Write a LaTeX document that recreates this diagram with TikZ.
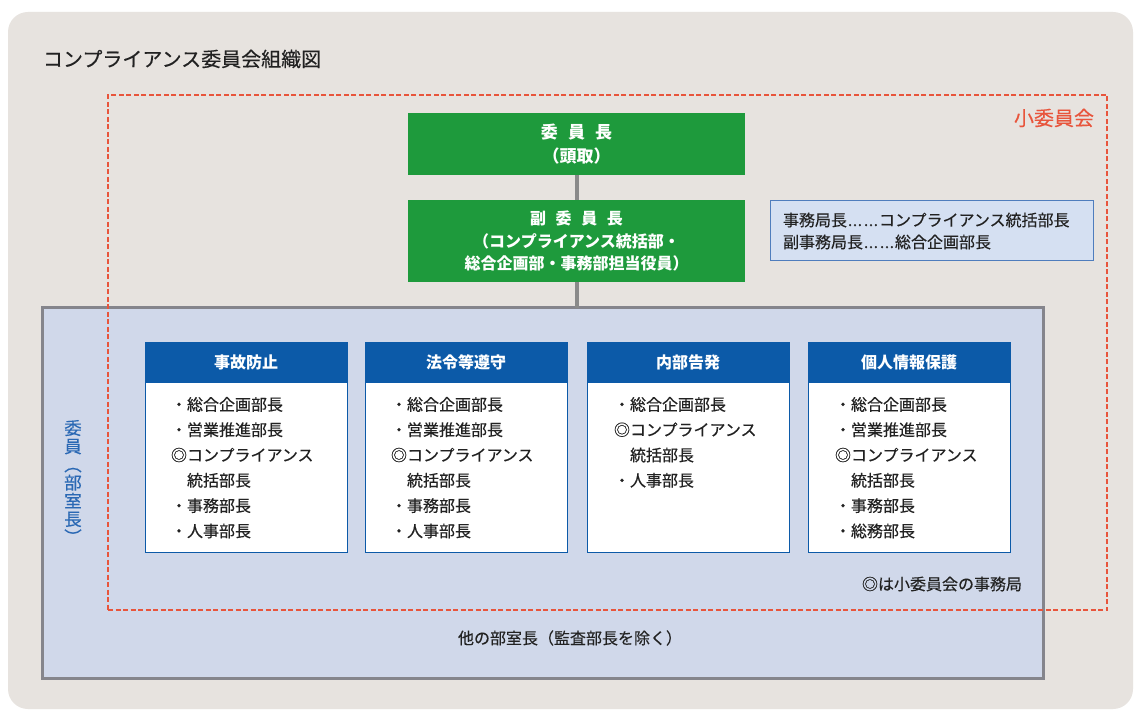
\documentclass[tikz,border=0pt]{standalone}
\usepackage{graphicx}
\usepackage{fontspec}
\setmainfont{Noto Sans CJK JP}
\newfontfamily\medfont{Noto Sans CJK JP}[FakeBold=0.35]
\newcommand\jdots{\makebox[1em]{\hfil.\hfil.\hfil.\hfil}}
\newcommand\vparen[1]{\rotatebox[origin=c]{-90}{#1}}
\definecolor{bgbeige}{HTML}{E7E3DF}
\definecolor{cgreen}{HTML}{1E9A3C}
\definecolor{cconn}{HTML}{8A8A8A}
\definecolor{cred}{HTML}{E8553C}
\definecolor{cmemfill}{HTML}{D0D8EA}
\definecolor{cmemdraw}{HTML}{85858C}
\definecolor{cblue}{HTML}{0C5AA8}
\definecolor{cinfofill}{HTML}{D5E0F2}
\definecolor{cinfodraw}{HTML}{4F7DBD}
\definecolor{cvtext}{HTML}{2A68B4}
\definecolor{ctext}{HTML}{222222}
\begin{document}
\begin{tikzpicture}[x=1pt,y=-1pt,
  every node/.style={inner sep=0pt,outer sep=0pt},
  greenbox/.style={fill=cgreen,draw=none,text=white,align=center,minimum width=337pt},
  conn/.style={draw=cconn,line width=4pt},
  colbox/.style={draw=cblue,fill=white,line width=0.8pt,minimum width=202pt,minimum height=210pt,anchor=north west},
  colhead/.style={fill=cblue,text=white,minimum width=202pt,minimum height=41pt,anchor=north west,font=\fontsize{16}{20}\selectfont\bfseries},
  itemtext/.style={font=\fontsize{16}{25.3}\selectfont\medfont,align=left,anchor=north west,text=ctext},
  reddash/.style={draw=cred,line width=2pt,dash pattern=on 5pt off 2.5pt},
]
\useasboundingbox (0,0) rectangle (1135,711);
\fill[white] (0,0) rectangle (1135,711);
\fill[bgbeige,rounded corners=20pt] (8,12) rectangle (1133,709);

% title
\node[anchor=west,text=ctext,font=\fontsize{20}{24}\selectfont\medfont] (title) at (43,59) {コンプライアンス委員会組織図};

% members box
\node[fill=cmemfill,draw=cmemdraw,line width=3pt,minimum width=1001pt,minimum height=370pt,anchor=north west] (members) at (42,308) {};

% sub-committee dashed frame
\node[reddash,minimum width=999pt,minimum height=515pt,anchor=north west] (sub) at (108,95) {};
\node[text=cred,font=\fontsize{20}{24}\selectfont\medfont] (sublabel) at (1054,118) {小委員会};

% chair boxes
\node[greenbox,minimum height=62pt,font=\fontsize{17}{24}\selectfont\bfseries] (chair) at (576.5,144)
  {委\hspace{0.6em}員\hspace{0.6em}長\\（頭取）};
\node[greenbox,minimum height=82pt,font=\fontsize{16}{22.5}\selectfont\bfseries] (vice) at (576.5,241)
  {副\hspace{0.6em}委\hspace{0.6em}員\hspace{0.6em}長\\（コンプライアンス統括部・\\総合企画部・事務部担当役員）};
\coordinate (mtop) at (vice.south |- members.north);
\draw[conn] (chair.south) -- (vice.north);
\draw[conn] (vice.south) -- (mtop);

% info box
\node[fill=cinfofill,draw=cinfodraw,line width=1pt,anchor=north west,minimum height=60pt,
      text width=297pt,inner xsep=13pt,align=left,text=ctext,font=\fontsize{16}{22}\selectfont\medfont] (info) at (770,201)
  {事務局長\jdots\jdots コンプライアンス統括部長\\副事務局長\jdots\jdots 総合企画部長};

% vertical label
\node[text=cvtext,align=center,font=\fontsize{17.5}{18.2}\selectfont\medfont] (vlabel) at (73,483)
  {委\\員\\\vparen{（}\\部\\室\\長\\\vparen{）}};

% columns
\node[colbox] (c1) at (145,342) {};
\node[colhead] (h1) at (145,342) {事故防止};
\node[itemtext] (t1) at (171,397) {・総合企画部長\\・営業推進部長\\◎コンプライアンス\\　統括部長\\・事務部長\\・人事部長};

\node[colbox] (c2) at (365,342) {};
\node[colhead] (h2) at (365,342) {法令等遵守};
\node[itemtext] (t2) at (391,397) {・総合企画部長\\・営業推進部長\\◎コンプライアンス\\　統括部長\\・事務部長\\・人事部長};

\node[colbox] (c3) at (587,342) {};
\node[colhead] (h3) at (587,342) {内部告発};
\node[itemtext] (t3) at (614,397) {・総合企画部長\\◎コンプライアンス\\　統括部長\\・人事部長};

\node[colbox] (c4) at (808,342) {};
\node[colhead] (h4) at (808,342) {個人情報保護};
\node[itemtext] (t4) at (835,397) {・総合企画部長\\・営業推進部長\\◎コンプライアンス\\　統括部長\\・事務部長\\・総務部長};

% notes
\node[anchor=east,text=ctext,font=\fontsize{16}{20}\selectfont\medfont] (note) at (1022,584) {◎は小委員会の事務局};
\node[text=ctext,font=\fontsize{16}{20}\selectfont\medfont] (others) at (570,638) {他の部室長（監査部長を除く）};
\end{tikzpicture}
\end{document}
